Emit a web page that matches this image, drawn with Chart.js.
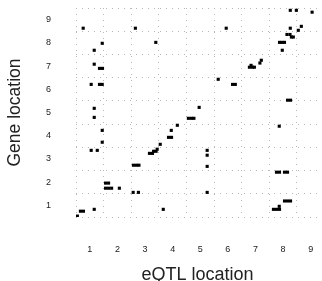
<!DOCTYPE html>
<html>
<head>
<meta charset="utf-8">
<script src="https://cdn.jsdelivr.net/npm/chart.js@4"></script>
<style>
html, body { margin: 0; padding: 0; background: #fff; }
#wrap { width: 322px; height: 281px; }
</style>
</head>
<body>
<div id="wrap"><canvas id="grafico"></canvas></div>
<script>
// eQTL position (x) and gene position (y) for each hit
const eqtlLoc = [
    0.76, 2.65, 1.45, 3.39, 1.16, 1.16, 1.35, 1.46, 1.05, 1.35, 1.45, 1.16, 1.16,
    4.57, 4.68, 4.77, 8.26, 8.48, 9.05, 5.94, 8.26, 8.66, 8.55,
    8.14, 8.25, 8.30, 8.37, 7.87, 7.96, 8.05, 7.97, 7.21, 7.16, 6.84,
    6.78, 6.89, 6.96, 5.65, 6.17, 6.27, 8.16, 8.27, 4.96, 1.45, 4.17, 3.95,
    3.85, 3.96, 1.45, 3.55, 1.05, 1.27, 3.44, 3.31, 3.40, 3.16, 3.27,
    2.58, 2.69, 2.78, 1.57, 1.68, 1.57, 1.68, 1.79, 2.07, 2.57, 2.76,
    1.16, 0.66, 0.77, 3.66, 0.55, 7.86, 5.25, 5.25, 5.25,
    7.76, 7.87, 8.05, 8.16, 5.25, 8.05, 8.16, 8.27, 7.86, 7.65, 7.76, 7.87
];
const geneLoc = [
    8.63, 8.63, 7.98, 8.02, 7.68, 7.08, 6.90, 6.90, 6.21, 6.21, 6.21, 5.18, 4.79,
    4.75, 4.75, 4.75, 9.40, 9.40, 9.32, 8.63, 8.63, 8.71, 8.54,
    8.36, 8.36, 8.25, 8.25, 8.02, 8.02, 8.02, 7.68, 7.25, 7.13, 7.03,
    6.95, 6.95, 6.95, 6.43, 6.21, 6.21, 5.53, 5.53, 5.22, 4.23, 4.45, 4.23,
    3.93, 3.93, 3.72, 3.63, 3.37, 3.37, 3.42, 3.33, 3.33, 3.24, 3.24,
    2.73, 2.73, 2.73, 1.96, 1.96, 1.74, 1.74, 1.74, 1.74, 1.56, 1.56,
    0.83, 0.75, 0.75, 0.83, 0.54, 4.41, 3.37, 3.16, 2.68,
    2.43, 2.43, 2.43, 2.43, 1.56, 1.19, 1.19, 1.19, 0.96, 0.83, 0.83, 0.83
];
const xTicks = [1, 2, 3, 4, 5, 6, 7, 8, 9];
const yTicks = [1, 2, 3, 4, 5, 6, 7, 8, 9];

let pontos = [];
for (let i = 0; i < eqtlLoc.length; i++) {
    pontos.push({ x: eqtlLoc[i], y: geneLoc[i] });
}

// ticks at every label plus the half steps between them (the dotted lines)
function montarTicks(labels, max) {
    let lista = [];
    labels.forEach(function (n) {
        lista.push({ value: n - 0.5 });
        lista.push({ value: n });
    });
    let ultimo = labels[labels.length - 1] + 0.5;
    if (ultimo <= max) lista.push({ value: ultimo });
    return lista;
}

function corGrade(c) {
    return Number.isInteger(c.tick.value) ? 'rgba(0,0,0,0)' : '#b8b8b8';
}

// tick padding would otherwise eat into the plot area on the sides
function semPadding(s) {
    s.paddingLeft = 0;
    s.paddingRight = 0;
    s.paddingTop = 0;
    s.paddingBottom = 0;
}

const fonte = 'Liberation Sans, Arial, sans-serif';

var ctx = document.getElementById('grafico').getContext('2d');
var grafico = new Chart(ctx, {
    type: 'scatter',
    data: {
        datasets: [{
            data: pontos,
            backgroundColor: '#000',
            borderWidth: 0,
            pointStyle: 'rect',
            pointRadius: 2.2,
            pointHoverRadius: 2.2
        }]
    },
    options: {
        responsive: true,
        maintainAspectRatio: false,
        animation: false,
        layout: { padding: { top: 8, right: 3, left: 0, bottom: 0 } },
        plugins: {
            legend: { display: false },
            tooltip: { enabled: false }
        },
        scales: {
            x: {
                type: 'linear',
                min: 0.5,
                max: 9.3,
                afterBuildTicks: function (s) { s.ticks = montarTicks(xTicks, 9.3); },
                afterFit: function (s) { s.height = 64; semPadding(s); },
                ticks: {
                    autoSkip: false,
                    maxRotation: 0,
                    padding: 27,
                    color: '#222',
                    font: { family: fonte, size: 9 },
                    callback: function (v) { return xTicks.includes(v) ? String(v) : ''; }
                },
                grid: { drawTicks: false, color: corGrade, lineWidth: 1 },
                border: { display: false, dash: [1, 5] },
                title: {
                    display: true,
                    text: 'eQTL location',
                    color: '#222',
                    font: { family: fonte, size: 18, lineHeight: 0.7 },
                    padding: { top: 0, bottom: 0 }
                }
            },
            y: {
                type: 'linear',
                min: 0.5,
                max: 9.5,
                afterBuildTicks: function (s) { s.ticks = montarTicks(yTicks, 9.5); },
                afterFit: function (s) { s.width = 76; semPadding(s); },
                ticks: {
                    autoSkip: false,
                    padding: 25,
                    color: '#222',
                    font: { family: fonte, size: 9 },
                    callback: function (v) { return yTicks.includes(v) ? String(v) : ''; }
                },
                grid: { drawTicks: false, color: corGrade, lineWidth: 1 },
                border: { display: false, dash: [1, 5] },
                title: {
                    display: true,
                    text: 'Gene location',
                    color: '#222',
                    font: { family: fonte, size: 17.5, lineHeight: 0.7 },
                    padding: { top: 9, bottom: 0 }
                }
            }
        }
    }
});
</script>
</body>
</html>
